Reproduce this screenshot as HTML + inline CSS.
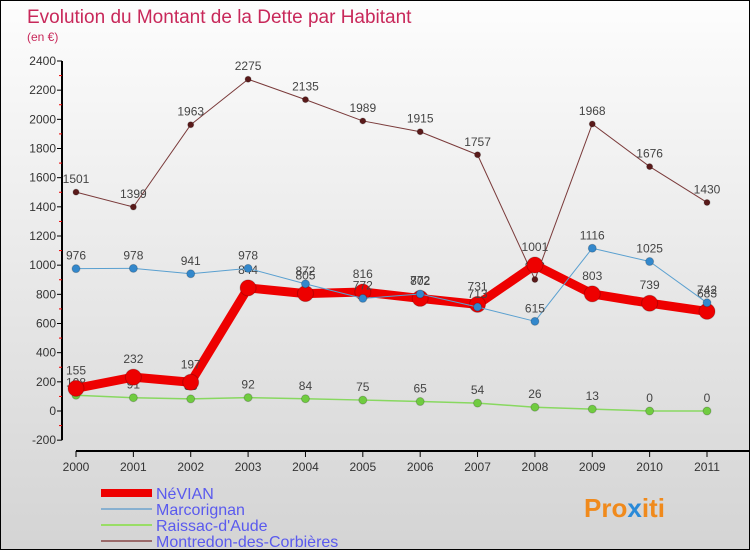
<!DOCTYPE html>
<html><head><meta charset="utf-8"><style>
body{margin:0}
#c{position:relative;width:750px;height:550px;box-sizing:border-box;border:1px solid #000;background:linear-gradient(#fdfdfd,#d4d4d4);font-family:"Liberation Sans",sans-serif;overflow:hidden}
</style></head><body>
<div id="c">
<svg id="s" width="750" height="550" style="position:absolute;left:0;top:0">
<text x="26" y="22" font-size="19" fill="#c8285a" font-weight="300">Evolution du Montant de la Dette par Habitant</text>
<text x="26" y="40" font-size="12" fill="#c8285a">(en €)</text>
<g id="ax"></g><g id="lines"></g>
<text x="583" y="516" font-size="26" font-weight="bold" fill="#f08a1c">Pro<tspan fill="#2a8ad8">x</tspan>iti</text>
</svg>
</div>
<script>
const years=["2000","2001","2002","2003","2004","2005","2006","2007","2008","2009","2010","2011"];
const yTicks=[-200,0,200,400,600,800,1000,1200,1400,1600,1800,2000,2200,2400];
const nevian=[155,232,197,844,805,816,772,731,1001,803,739,683];
const marcorignan=[976,978,941,978,872,772,802,713,615,1116,1025,742];
const raissac=[108,91,83,92,84,75,65,54,26,13,0,0];
const montredon=[1501,1399,1963,2275,2135,1989,1915,1757,902,1968,1676,1430];
const NS="http://www.w3.org/2000/svg";
const X=i=>75+i*(706-75)/(years.length-1);
const Y=v=>410-v*(350/2400);
function mk(t,a,p){const e=document.createElementNS(NS,t);for(const k in a)e.setAttribute(k,a[k]);p.appendChild(e);return e;}
const ax=document.getElementById('ax');
const yl=mk('line',{x1:61,y1:Y(2400),x2:61,y2:Y(-200),stroke:'#000','stroke-width':2},ax);


yTicks.forEach((v,i)=>{
 mk('line',{x1:56,y1:Y(v),x2:61,y2:Y(v),stroke:'#000'},ax);
 if(i<yTicks.length-1) mk('line',{x1:58,y1:Y(v+100),x2:61,y2:Y(v+100),stroke:'#e00'},ax);
 const t=mk('text',{x:55,y:Y(v)+4,'font-size':12,'text-anchor':'end',fill:'#333'},ax);t.textContent=v;
 
 
});
const xl=mk('line',{x1:75,y1:450,x2:750,y2:450,stroke:'#000','stroke-width':2},ax);


years.forEach((y,i)=>{
 mk('line',{x1:X(i),y1:450,x2:X(i),y2:456,stroke:'#000'},ax);
 const t=mk('text',{x:X(i),y:470,'font-size':12,'text-anchor':'middle',fill:'#333'},ax);t.textContent=y;
 
 
});
const L=document.getElementById('lines');
function series(d,col,dot,w,r,name,lab){
 const g=mk('g',{},L);
 
 
 mk('polyline',{points:d.map((v,i)=>X(i)+','+Y(v)).join(' '),fill:'none',stroke:col,'stroke-width':w,'stroke-linejoin':'round'},g);
 d.forEach((v,i)=>{
  const c=mk('circle',{cx:X(i),cy:Y(v),r:r,fill:dot,stroke:'rgba(0,0,0,0.2)'},g);
  
  
  const t=mk('text',{x:X(i),y:Y(v)-lab,'font-size':12,'text-anchor':'middle',fill:'#444'},g);t.textContent=v;
  
  
 });
}
series(montredon,'#7a3a3a','#5a1a1a',1,3,'montredon-series',9);
series(raissac,'#88d860','#70cc40',1.5,4,'raissac-series',9);
series(nevian,'#ee0000','#ee0000',9,8,'nevian-series',14);
series(marcorignan,'#5aa0d0','#3388cc',1,4,'marcorignan-series',9);
const leg=[['NéVIAN','#ee0000',8],['Marcorignan','#88b0d0',2],["Raissac-d'Aude",'#99dd66',2],['Montredon-des-Corbières','#9a6a6a',2]];
leg.forEach((l,i)=>{
 const y=492+i*16;
 const ln=mk('line',{x1:100,y1:y,x2:151,y2:y,stroke:l[1],'stroke-width':l[2]},L);
 
 
 const t=mk('text',{x:155,y:y+6,'font-size':16,fill:'#5a5aee'},L);t.textContent=l[0];
 
 
});
</script>
</body></html>
